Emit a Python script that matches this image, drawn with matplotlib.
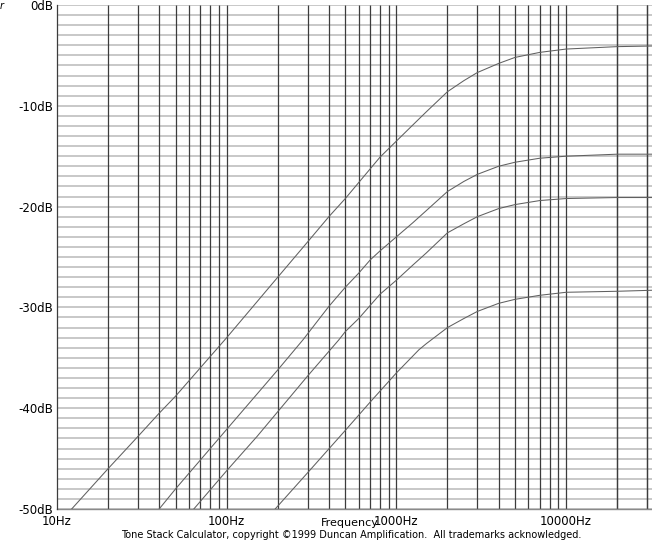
import matplotlib
matplotlib.use("Agg")

import numpy as np
import matplotlib.pyplot as plt
from matplotlib.ticker import FixedLocator, NullFormatter

plt.rcParams["font.family"] = ["DejaVu Sans"]

# -----------------------------
# DATA
# -----------------------------
freq_1 = [12.2, 20, 30, 40, 50, 100, 200, 300, 400, 500, 800, 1000, 1250, 1500,
          2000, 2500, 3000, 4000, 5000, 7000, 10000, 20000, 32000]
db_1 = [-50, -46.0, -42.8, -40.5, -38.8, -33.0, -27.0, -23.5, -21.0, -19.2, -15.1,
        -13.5, -11.9, -10.6, -8.6, -7.5, -6.7, -5.8, -5.2, -4.7, -4.37, -4.13, -4.07]

freq_2 = [40, 50, 100, 200, 282, 400, 500, 600, 700, 800, 1000, 1250, 1500, 2000,
          2500, 3000, 4000, 5000, 7000, 10000, 20000, 32000]
db_2 = [-50, -48.0, -42.1, -36.2, -33.2, -29.9, -28.0, -26.6, -25.3, -24.4, -23.0,
        -21.6, -20.4, -18.5, -17.5, -16.8, -16.0, -15.6, -15.2, -15.0, -14.8, -14.8]

freq_3 = [64, 100, 151, 300, 459, 500, 600, 800, 1000, 1250, 1500, 2000, 2500,
          3000, 4000, 5000, 7000, 10000, 20000, 32000]
db_3 = [-50, -46.2, -42.8, -36.8, -33.2, -32.4, -31.1, -28.7, -27.3, -25.8, -24.6,
        -22.6, -21.7, -21.0, -20.2, -19.8, -19.4, -19.2, -19.1, -19.1]

freq_4 = [193, 300, 500, 700, 1000, 1358, 1500, 2000, 2500, 3000, 4000, 5000,
          7000, 10000, 20000, 32000]
db_4 = [-50, -46.4, -42.2, -39.4, -36.5, -34.2, -33.6, -32.0, -31.1, -30.4, -29.6,
        -29.2, -28.8, -28.5, -28.4, -28.3]

decades = [10, 100, 1000, 10000]
decade_labels = ["10Hz", "100Hz", "1000Hz", "10000Hz"]
db_ticks = [0, -10, -20, -30, -40, -50]
db_labels = ["0dB", "-10dB", "-20dB", "-30dB", "-40dB", "-50dB"]

# -----------------------------
# FIGURE
# -----------------------------
fig = plt.figure(figsize=(6.52, 5.40), dpi=100)
ax = fig.add_axes([57 / 652, 31 / 540, 595 / 652, 504 / 540])

x_right = 10 ** (1 + 595 / 169.7)
ax.set_xscale("log")
ax.set_xlim(10, x_right)
ax.set_ylim(-50, 0)

# grid: every 1 dB horizontally, every 1..9 x decade vertically
minor_x = [m * d for d in decades for m in range(2, 10)] + [20000, 30000]
ax.xaxis.set_major_locator(FixedLocator(decades))
ax.xaxis.set_minor_locator(FixedLocator(minor_x))
ax.xaxis.set_minor_formatter(NullFormatter())
ax.set_xticklabels(decade_labels)

ax.yaxis.set_major_locator(FixedLocator(db_ticks))
ax.yaxis.set_minor_locator(FixedLocator(list(range(-49, 0))))
ax.set_yticklabels(db_labels)

ax.grid(which="both", axis="y", color="#c4c4c4", linewidth=1.3)
ax.set_axisbelow(True)

# vertical lines on top of the horizontal ones
ax.vlines(decades[1:] + minor_x, -50, 0, colors="#3c3c3c", linewidth=0.9,
          zorder=1)

ax.tick_params(which="both", length=0, labelsize=8.5, colors="black")
ax.tick_params(axis="y", pad=3)
ax.tick_params(axis="x", pad=4)

for side in ["top", "right", "bottom"]:
    ax.spines[side].set_visible(False)
ax.spines["left"].set_color("#3c3c3c")
ax.spines["left"].set_linewidth(0.9)
ax.axhline(-50, color="#8a8a8a", linewidth=1.0, clip_on=False)

# -----------------------------
# CURVES
# -----------------------------
for f, g in [(freq_1, db_1), (freq_2, db_2), (freq_3, db_3), (freq_4, db_4)]:
    ax.plot(f, g, color="#606060", linewidth=0.75, zorder=3)

# -----------------------------
# TEXT
# -----------------------------
fig.text(350 / 652, 1 - 523 / 540, "Frequency", ha="center", va="center",
         fontsize=8)
fig.text(351 / 652, 1 - 535 / 540,
         "Tone Stack Calculator, copyright \u00a91999 Duncan Amplification.  "
         "All trademarks acknowledged.",
         ha="center", va="center", fontsize=7)
fig.text(0.0, 1 - 6 / 540, "r", ha="left", va="center", fontsize=7,
         style="italic")

fig.savefig("out.png", dpi=100)
plt.close(fig)
